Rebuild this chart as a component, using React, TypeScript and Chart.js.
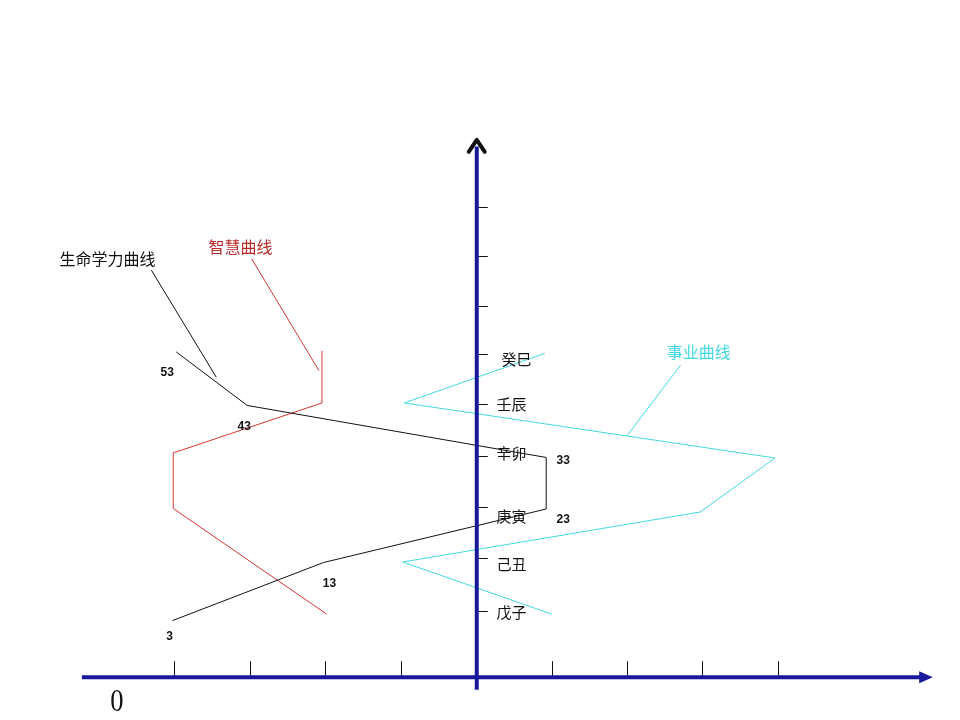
import React, { useEffect, useRef } from "react";
import { Chart, registerables } from "chart.js";

Chart.register(...registerables);

// ---- data ----
const years = ["戊子", "己丑", "庚寅", "辛卯", "壬辰", "癸巳"];
const yTickValues = [1.0, 2.05, 3.06, 4.07, 5.1, 6.09, 7.04, 8.03, 9.0];
const xTickValues = [-4, -3, -2, -1, 1, 2, 3, 4];

const ages = ["3", "13", "23", "33", "43", "53"];
const lifeX = [-4.02, -2.02, 0.93, 0.93, -3.03, -3.97];
const lifeY = [0.81, 1.96, 3.02, 4.04, 5.07, 6.13];

const wisdomX = [-1.98, -4.01, -4.01, -2.04, -2.04];
const wisdomY = [0.94, 3.03, 4.13, 5.12, 6.15];

const careerX = [1.0, -0.97, 2.97, 3.96, -0.95, 0.91];
const careerY = [0.94, 1.97, 2.96, 4.03, 5.12, 6.1];

const seriesNames = ["生命学力曲线", "智慧曲线", "事业曲线"];
// leader lines from each name to its curve: [x0, y0, x1, y1]
const lifeLeader = [-4.3, 7.75, -3.44, 5.63];
const wisdomLeader = [-2.97, 7.97, -2.08, 5.76];
const careerLeader = [2.71, 5.87, 2.0, 4.47];

// ---- layout / style ----
const X_MIN = -476 / 75.5;
const X_MAX = (960 - 476) / 75.5;
const Y_MIN = 1 - (720 - 611) / 50.5;
const Y_MAX = 1 + 611 / 50.5;

const AXIS_BLUE = "#17199a";
const RED = "#d43333";
const RED_TEXT = "#b92a2a";
const CYAN = "#42d8e0";

const nameAnchors = [
  [-4.88, 7.98],
  [-3.12, 8.2],
  [2.95, 6.13],
];
const nameColors = ["#111111", RED_TEXT, CYAN];
const ageOffsets = [
  [-3, 16],
  [6, 21],
  [17, 11],
  [17, 3],
  [-3, 21],
  [-9, 21],
];
// pixel nudges of the year labels relative to their ticks
const yearOffsets = [
  [0, 0],
  [0, 5],
  [0, 8],
  [0, -4],
  [0, -1],
  [5, 4],
];

const pts = (xs: number[], ys: number[]) => xs.map((x, i) => ({ x, y: ys[i] }));
const seg = (s: number[]) => [
  { x: s[0], y: s[1] },
  { x: s[2], y: s[3] },
];

const drawPlugin = {
  id: "axesAndText",
  afterDatasetsDraw(chart: any) {
    const ctx = chart.ctx as CanvasRenderingContext2D;
    const xs = chart.scales.x;
    const ys = chart.scales.y;
    const px = (v: number) => xs.getPixelForValue(v);
    const py = (v: number) => ys.getPixelForValue(v);
    ctx.save();

    const axisY = py(-0.31);
    const axisX = px(0.01);

    // x ticks
    ctx.strokeStyle = "#111";
    ctx.lineWidth = 1;
    xTickValues.forEach((v) => {
      ctx.beginPath();
      ctx.moveTo(Math.round(px(v)) + 0.5, axisY - 16);
      ctx.lineTo(Math.round(px(v)) + 0.5, axisY);
      ctx.stroke();
    });
    // y ticks
    yTickValues.forEach((v) => {
      ctx.beginPath();
      ctx.moveTo(axisX, Math.round(py(v)) + 0.5);
      ctx.lineTo(axisX + 11, Math.round(py(v)) + 0.5);
      ctx.stroke();
    });

    // x axis
    ctx.strokeStyle = AXIS_BLUE;
    ctx.lineWidth = 4;
    ctx.beginPath();
    ctx.moveTo(px(-5.22), axisY);
    ctx.lineTo(px(5.9), axisY);
    ctx.stroke();
    ctx.fillStyle = AXIS_BLUE;
    ctx.beginPath();
    ctx.moveTo(px(6.05), axisY);
    ctx.lineTo(px(5.87), axisY - 6);
    ctx.lineTo(px(5.87), axisY + 6);
    ctx.closePath();
    ctx.fill();

    // y axis
    ctx.beginPath();
    ctx.moveTo(axisX, py(-0.56));
    ctx.lineTo(axisX, py(10.2));
    ctx.stroke();
    // chevron arrow
    const tipY = py(10.33);
    ctx.strokeStyle = "#111";
    ctx.lineWidth = 4;
    ctx.lineCap = "round";
    ctx.lineJoin = "round";
    ctx.beginPath();
    ctx.moveTo(axisX - 8, tipY + 12);
    ctx.lineTo(axisX, tipY);
    ctx.lineTo(axisX + 8, tipY + 12);
    ctx.stroke();

    // year labels
    ctx.fillStyle = "#111";
    ctx.font = '15px "Noto Sans CJK SC"';
    ctx.textAlign = "left";
    ctx.textBaseline = "middle";
    years.forEach((t, i) => {
      ctx.fillText(t, px(0.27) + yearOffsets[i][0], py(yTickValues[i]) + 1 + yearOffsets[i][1]);
    });

    // series names
    ctx.font = '16px "Noto Sans CJK SC"';
    ctx.textAlign = "center";
    seriesNames.forEach((t, i) => {
      ctx.fillStyle = nameColors[i];
      ctx.fillText(t, px(nameAnchors[i][0]), py(nameAnchors[i][1]));
    });

    // age labels
    ctx.fillStyle = "#111";
    ctx.font = 'bold 12px "Liberation Sans"';
    ages.forEach((t, i) => {
      ctx.fillText(t, px(lifeX[i]) + ageOffsets[i][0], py(lifeY[i]) + ageOffsets[i][1]);
    });

    // origin "0"
    ctx.save();
    ctx.translate(px(-4.755), py(-0.82));
    ctx.scale(0.95, 1.15);
    ctx.font = '28px "Liberation Serif"';
    ctx.fillStyle = "#111";
    ctx.fillText("0", 0, 0);
    ctx.restore();

    ctx.restore();
  },
};

export default function App() {
  const ref = useRef<HTMLCanvasElement | null>(null);
  useEffect(() => {
    document.body.style.margin = "0";
    const canvas = ref.current!;
    const lineDs = (data: any[], color: string) => ({
      data,
      borderColor: color,
      backgroundColor: color,
      borderWidth: 1,
      showLine: true,
      pointRadius: 0,
      tension: 0,
      fill: false,
    });
    const chart = new Chart(canvas, {
      type: "scatter",
      data: {
        datasets: [
          lineDs(pts(lifeX, lifeY), "#111111"),
          lineDs(pts(wisdomX, wisdomY), RED),
          lineDs(pts(careerX, careerY), CYAN),
          lineDs(seg(lifeLeader), "#111111"),
          lineDs(seg(wisdomLeader), RED),
          lineDs(seg(careerLeader), CYAN),
        ],
      },
      options: {
        animation: false,
        responsive: false,
        devicePixelRatio: 1,
        layout: { padding: 0 },
        plugins: { legend: { display: false }, tooltip: { enabled: false } },
        scales: {
          x: { type: "linear", min: X_MIN, max: X_MAX, display: false },
          y: { type: "linear", min: Y_MIN, max: Y_MAX, display: false },
        },
      },
      plugins: [drawPlugin],
    });
    return () => chart.destroy();
  }, []);
  return (
    <div style={{ position: "absolute", left: 0, top: 0, width: 960, height: 720, background: "#fff" }}>
      <canvas ref={ref} width={960} height={720} />
    </div>
  );
}
